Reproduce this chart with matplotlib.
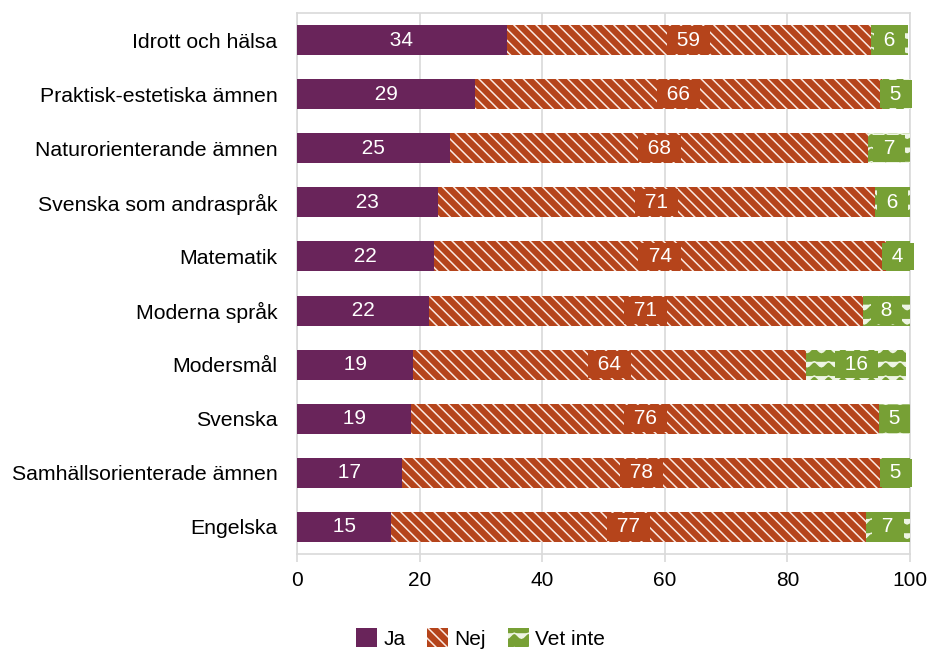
import matplotlib
matplotlib.use("Agg")
import matplotlib.pyplot as plt
import matplotlib.hatch as mhatch
from matplotlib.path import Path
import numpy as np
import warnings

warnings.filterwarnings("ignore")

categories = ["Idrott och hälsa", "Praktisk-estetiska ämnen", "Naturorienterande ämnen",
              "Svenska som andraspråk", "Matematik", "Moderna språk", "Modersmål",
              "Svenska", "Samhällsorienterade ämnen", "Engelska"]
ja = [34.2, 29.0, 25.0, 23.0, 22.3, 21.5, 19.0, 18.6, 17.1, 15.4]
nej = [59.4, 66.4, 68.2, 71.3, 73.8, 70.8, 64.0, 76.4, 78.3, 77.4]
vet = [6.1, 4.6, 6.8, 5.7, 3.9, 7.7, 16.4, 5.0, 4.6, 7.2]
series_names = ["Ja", "Nej", "Vet inte"]
xticks = [0, 20, 40, 60, 80, 100]


class WaveHatch(mhatch.HatchPatternBase):
    """Wavy horizontal lines, triggered by '~' in a hatch string."""
    NSEG = 56

    def __init__(self, hatch, density):
        self.num_lines = int(hatch.count('~') * 7)
        self.num_vertices = self.num_lines * (self.NSEG + 1)

    def set_vertices_and_codes(self, vertices, codes):
        xs = np.linspace(0.0, 1.0, self.NSEG + 1)
        n = self.NSEG + 1
        for i in range(self.num_lines):
            y0 = (i + 0.5) / self.num_lines
            ys = y0 + 0.025 * np.cos(2 * np.pi * 7 * xs)
            vertices[i * n:(i + 1) * n, 0] = xs
            vertices[i * n:(i + 1) * n, 1] = ys
            codes[i * n] = Path.MOVETO
            codes[i * n + 1:(i + 1) * n] = Path.LINETO


mhatch._hatch_types.append(WaveHatch)

plt.rcParams['font.family'] = ['Liberation Sans', 'DejaVu Sans']
plt.rcParams['hatch.linewidth'] = 1.1

c_ja = "#69245A"
c_nej = "#B5441B"
c_vet = "#77A035"

fig = plt.figure(figsize=(9.31, 6.52), dpi=100)
ax = fig.add_axes([297/931, 1-554/652, (910-297)/931, (554-13)/652])

y = np.arange(len(categories))
h = 0.555
ja_a = np.array(ja); nej_a = np.array(nej); vet_a = np.array(vet)

b1 = ax.barh(y, ja_a, height=h, color=c_ja, linewidth=0, label=series_names[0], zorder=3)
b2 = ax.barh(y, nej_a, left=ja_a, height=h, facecolor=c_nej, edgecolor="#FBE9E2",
             linewidth=0, hatch="\\\\\\", label=series_names[1], zorder=3)
b3 = ax.barh(y, vet_a, left=ja_a + nej_a, height=h, facecolor=c_vet, edgecolor="#EEF5E4",
             linewidth=0, hatch="~", label=series_names[2], zorder=3)

fs = 15
for i in range(len(categories)):
    for left, w, col in [(0, ja_a[i], c_ja), (ja_a[i], nej_a[i], c_nej),
                         (ja_a[i] + nej_a[i], vet_a[i], c_vet)]:
        ax.text(left + w / 2, y[i], f" {round(w):d} ", ha="center", va="center",
                color="white", fontsize=fs, zorder=5,
                bbox=dict(boxstyle="square,pad=0.2", facecolor=col, edgecolor="none"))

ax.set_xlim(0, 100)
ax.set_ylim(len(categories) - 0.5, -0.5)
ax.set_yticks(y)
ax.set_yticklabels(categories, fontsize=15.3)
ax.set_xticks(xticks)
ax.set_xticklabels([str(t) for t in xticks], fontsize=15)
ax.tick_params(axis="y", length=0, pad=14)
ax.tick_params(axis="x", length=6, width=1.2, color="#D9D9D9", pad=6)
ax.grid(axis="x", color="#D9D9D9", linewidth=1.2, zorder=0)
ax.set_axisbelow(True)
for s in ax.spines.values():
    s.set_color("#D9D9D9")
    s.set_linewidth(1.2)

fig.legend(handles=[b1, b2, b3], labels=series_names, loc="center",
           bbox_to_anchor=(0.516, 0.021), ncol=3, frameon=False, fontsize=15,
           handlelength=1.0, handleheight=1.0, handletextpad=0.3, columnspacing=1.05)

fig.savefig("out.png", dpi=100)
